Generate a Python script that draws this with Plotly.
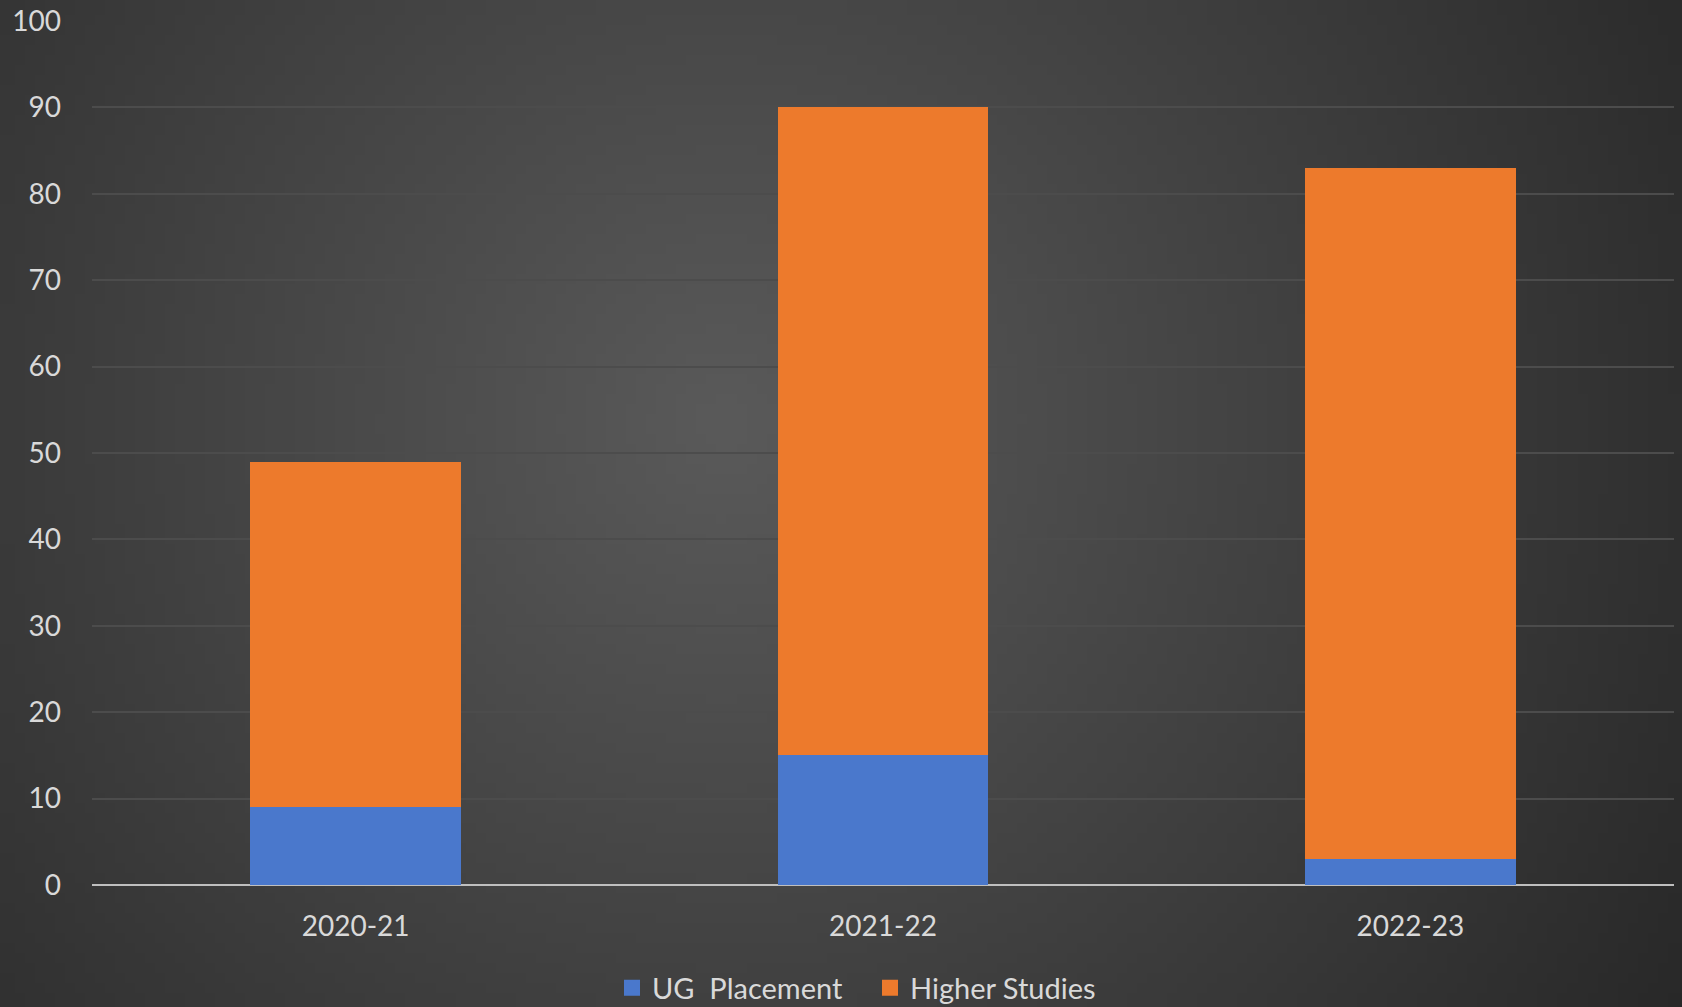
import base64
import math
import struct
import zlib

import plotly.graph_objects as go

categories = ["2020-21", "2021-22", "2022-23"]
ug_placement = [9, 15, 3]
higher_studies = [40, 75, 80]
y_ticks = [0, 10, 20, 30, 40, 50, 60, 70, 80, 90, 100]
series_names = ["UG  Placement", "Higher Studies"]
series_colors = ["#4a78cc", "#ed7a2c"]

W, H = 1682, 1007
M_L, M_R, M_T, M_B = 92, 8, 21, 122
PW, PH = W - M_L - M_R, H - M_T - M_B


def radial_png(w, h, cx, cy, c_in, c_out):
    corner = max(math.hypot(cx * W, cy * H), math.hypot((1 - cx) * W, cy * H),
                 math.hypot(cx * W, (1 - cy) * H), math.hypot((1 - cx) * W, (1 - cy) * H))
    raw = bytearray()
    for j in range(h):
        raw.append(0)
        fy = (j + 0.5) / h
        for i in range(w):
            fx = (i + 0.5) / w
            r = math.hypot((fx - cx) * W, (fy - cy) * H) / corner
            r = min(1.0, r)
            v = int(round(c_in + (c_out - c_in) * r))
            raw += bytes((v, v, v))
    def chunk(t, d):
        c = struct.pack(">I", len(d)) + t + d
        return c + struct.pack(">I", zlib.crc32(t + d) & 0xffffffff)
    png = b"\x89PNG\r\n\x1a\n"
    png += chunk(b"IHDR", struct.pack(">IIBBBBB", w, h, 8, 2, 0, 0, 0))
    png += chunk(b"IDAT", zlib.compress(bytes(raw), 9))
    png += chunk(b"IEND", b"")
    return "data:image/png;base64," + base64.b64encode(png).decode()


bg = radial_png(168, 101, 0.43, 0.42, 90, 40)

FONT = "Lato, 'Open Sans', sans-serif"
TXT = "#d9d9d9"
FS = 28

fig = go.Figure()
for vals, name, col in zip([ug_placement, higher_studies], series_names, series_colors):
    fig.add_trace(go.Bar(x=categories, y=vals, name=name, showlegend=False,
                         marker=dict(color=col, line=dict(width=0))))
for name, col in zip(series_names, series_colors):
    fig.add_trace(go.Scatter(x=[None], y=[None], mode="markers", name=name,
                             marker=dict(symbol="square", size=19, color=col)))

fig.update_layout(
    width=W, height=H,
    barmode="stack", bargap=0.6,
    margin=dict(l=M_L, r=M_R, t=M_T, b=M_B, autoexpand=False),
    paper_bgcolor="#3a3a3a", plot_bgcolor="rgba(0,0,0,0)",
    font=dict(family=FONT, color=TXT, size=FS),
    images=[dict(source=bg, xref="paper", yref="paper",
                 x=-M_L / PW, y=1 + M_T / PH, sizex=W / PW, sizey=H / PH,
                 xanchor="left", yanchor="top", sizing="stretch", layer="below")],
    legend=dict(orientation="h", x=(870 - M_L) / PW, xanchor="center",
                y=-(988 - M_T - PH) / PH, yanchor="middle", traceorder="normal",
                font=dict(family=FONT, color=TXT, size=29),
                entrywidth=213, entrywidthmode="pixels",
                bgcolor="rgba(0,0,0,0)", itemwidth=30, tracegroupgap=0),
    xaxis=dict(showgrid=False, showline=False, zeroline=False, ticks="",
               tickfont=dict(family=FONT, color=TXT, size=FS), ticklabelstandoff=22),
    yaxis=dict(range=[0, 100], tickvals=y_ticks, showgrid=True, gridcolor="#4c4c4c",
               gridwidth=2, zeroline=True, zerolinecolor="#bfbfbf", zerolinewidth=2,
               showline=False, ticks="", ticklabelstandoff=30,
               tickfont=dict(family=FONT, color=TXT, size=FS)),
    showlegend=True,
)

fig.write_html("out.html", config={"displayModeBar": False},
               post_script="document.body.style.margin='0';document.body.style.overflow='hidden';")
